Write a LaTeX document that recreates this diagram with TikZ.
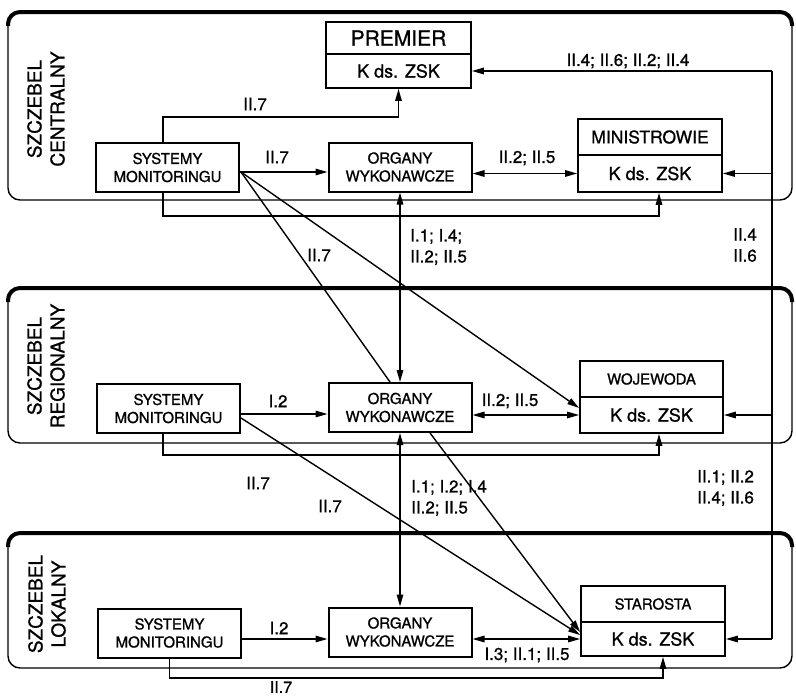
\documentclass[tikz,border=0pt]{standalone}
\usepackage{fontspec}
\setmainfont{TeX Gyre Heros}[FakeBold=0.9]
\usetikzlibrary{arrows.meta,calc}
\begin{document}
\begin{tikzpicture}[x=1pt,y=-1pt,
 box/.style={draw,line width=2pt,minimum width=143pt,minimum height=49pt,inner sep=0pt,align=center,font=\fontsize{15}{18}\selectfont},
 part/.style={draw,line width=1.8pt,minimum width=144pt,inner sep=0pt,align=center},
 conn/.style={line width=1.4pt},
 arr/.style={conn,-{Triangle[length=12pt,width=6.5pt]}},
 darr/.style={conn,{Triangle[length=12pt,width=6.5pt]}-{Triangle[length=12pt,width=6.5pt]}},
 lab/.style={inner sep=0pt,font=\fontsize{17}{21}\selectfont},
 lvl/.style={rotate=90,align=center,inner sep=0pt,font=\fontsize{19}{23}\selectfont},
 panel/.style={line width=1.4pt,rounded corners=12pt},
 rim/.style={line width=4pt,rounded corners=12pt}
]
\useasboundingbox (0,0) rectangle (796,696);
\fill[white] (0,0) rectangle (796,696);

% panels
\draw[panel] (8,12) rectangle (792,200);
\draw[rim] (8,26) |- (792,12) -- (792,26);
\draw[panel] (8,288) rectangle (792,443);
\draw[rim] (8,302) |- (792,288) -- (792,302);
\draw[panel] (8,533) rectangle (792,668);
\draw[rim] (8,547) |- (792,533) -- (792,547);

\node[lvl] (l1) at (46,109) {SZCZEBEL\\CENTRALNY};
\node[lvl] (l2) at (46,366) {SZCZEBEL\\REGIONALNY};
\node[lvl] (l3) at (47,604) {SZCZEBEL\\LOKALNY};

% top level nodes
\node[part,minimum width=145pt,minimum height=32pt,font=\fontsize{21}{24}\selectfont] (premT) at (398.5,38) {PREMIER};
\node[part,minimum width=145pt,minimum height=34pt,font=\fontsize{18}{21}\selectfont] (premB) at (398.5,71) {K ds. ZSK};
\node[box] (sm1) at (167.5,167.5) {SYSTEMY\\MONITORINGU};
\node[box] (org1) at (400,167) {ORGANY\\WYKONAWCZE};
\node[part,minimum height=36pt,font=\fontsize{17.5}{21}\selectfont] (minT) at (650,137) {MINISTROWIE};
\node[part,minimum height=37pt,font=\fontsize{18}{21}\selectfont] (minB) at (650,173.5) {K ds. ZSK};

% middle level nodes
\node[box] (sm2) at (168.5,408.5) {SYSTEMY\\MONITORINGU};
\node[box] (org2) at (400,407.5) {ORGANY\\WYKONAWCZE};
\node[part,minimum width=143pt,minimum height=36pt,font=\fontsize{15}{18}\selectfont] (wojT) at (651.5,379) {WOJEWODA};
\node[part,minimum width=143pt,minimum height=36pt,font=\fontsize{18}{21}\selectfont] (wojB) at (651.5,415) {K ds. ZSK};

% bottom level nodes
\node[box] (sm3) at (169.5,633) {SYSTEMY\\MONITORINGU};
\node[box] (org3) at (400,632) {ORGANY\\WYKONAWCZE};
\node[part,minimum height=36pt,font=\fontsize{15}{18}\selectfont] (starT) at (653,604) {STAROSTA};
\node[part,minimum height=34pt,font=\fontsize{18}{21}\selectfont] (starB) at (653,639) {K ds. ZSK};

% helper coordinates
\coordinate (bus) at (772,0);
\coordinate (y117) at (0,117);
\coordinate (y216) at (0,216);
\coordinate (y455) at (0,455);
\coordinate (y679) at (0,678);

% top level connectors
\coordinate (a1) at ($(sm1.east)+(0,4.5)$);
\draw[arr] (a1) -- (a1 -| org1.west);
\coordinate (a2) at ($(sm1.north)+(-4.5,0)$);
\draw[arr] (a2) -- (a2 |- y117) -| (premB.south);
\coordinate (a3) at ($(sm1.south)+(-4.5,0)$);
\coordinate (m3) at ($(minB.south)+(9,0)$);
\draw[arr] (a3) -- (a3 |- y216) -| (m3);
\draw[darr] (org1.east |- minB.west) -- (minB.west);
\draw[darr] (org1.south) -- (org2.north);

% right bus
\draw[conn] (premB.east -| bus) -- (starB.east -| bus);
\draw[arr] (premB.east -| bus) -- (premB.east);
\draw[arr] (minB.east -| bus) -- (minB.east);
\draw[arr] (wojB.east -| bus) -- (wojB.east);
\draw[arr] (starB.east -| bus) -- (starB.east);

% diagonals
\coordinate (d1) at ($(sm1.east)+(1,4.5)$);
\draw[conn] (d1) -- ($(org2.north)+(-10,0)$);
\draw[arr] (d1) -- ($(wojB.west)+(0,-7)$);
\coordinate (d2) at ($(sm2.east)+(0,9.5)$);
\draw[arr] (d2) -- ($(starB.west)+(0,-4)$);
\draw[arr] ($(org2.south)+(30,0)$) -- ($(starB.west)+(0,-7)$);

% middle level connectors
\coordinate (b1) at ($(sm2.east)+(0,5.5)$);
\draw[arr] (b1) -- (b1 -| org2.west);
\draw[darr] (org2.east |- wojB.west) -- (wojB.west);
\coordinate (b3) at ($(sm2.south)+(-5.5,0)$);
\coordinate (w3) at ($(wojB.south)+(7.5,0)$);
\draw[arr] (b3) -- (b3 |- y455) -| (w3);
\draw[darr] (org2.south) -- (org3.north);

% bottom level connectors
\coordinate (c1) at ($(sm3.east)+(0,6)$);
\draw[arr] (c1) -- (c1 -| org3.west);
\draw[darr] (org3.east |- starB.west) -- (starB.west);
\coordinate (c3) at ($(starB.south)+(10,0)$);
\draw[arr] (sm3.south) -- (sm3.south |- y679) -| (c3);

% labels
\node[lab] (t1) at (255,104) {II.7};
\node[lab] (t2) at (277,157) {II.7};
\node[lab] (t3) at (527,158) {II.2; II.5};
\node[lab] (t4) at (628,61) {II.4; II.6; II.2; II.4};
\node[lab,anchor=west,align=left] (t5) at (410,247) {I.1; I.4;\\II.2; II.5};
\node[lab] (t6) at (319,255) {II.7};
\node[lab,anchor=west,align=left] (t7) at (733,245) {II.4\\II.6};
\node[lab] (t8) at (278,401) {I.2};
\node[lab] (t9) at (510,401) {II.2; II.5};
\node[lab] (t10) at (258,483) {II.7};
\node[lab] (t11) at (330,506) {II.7};
\node[lab,anchor=west,align=left] (t12) at (411,498) {I.1; I.2; I.4\\II.2; II.5};
\node[lab,anchor=west,align=left] (t13) at (697,488) {II.1; II.2\\II.4; II.6};
\node[lab] (t14) at (279,628) {I.2};
\node[lab] (t15) at (527,655) {I.3; II.1; II.5};
\node[lab,font=\fontsize{16}{19}\selectfont] (t16) at (281,687) {II.7};
\end{tikzpicture}
\end{document}
